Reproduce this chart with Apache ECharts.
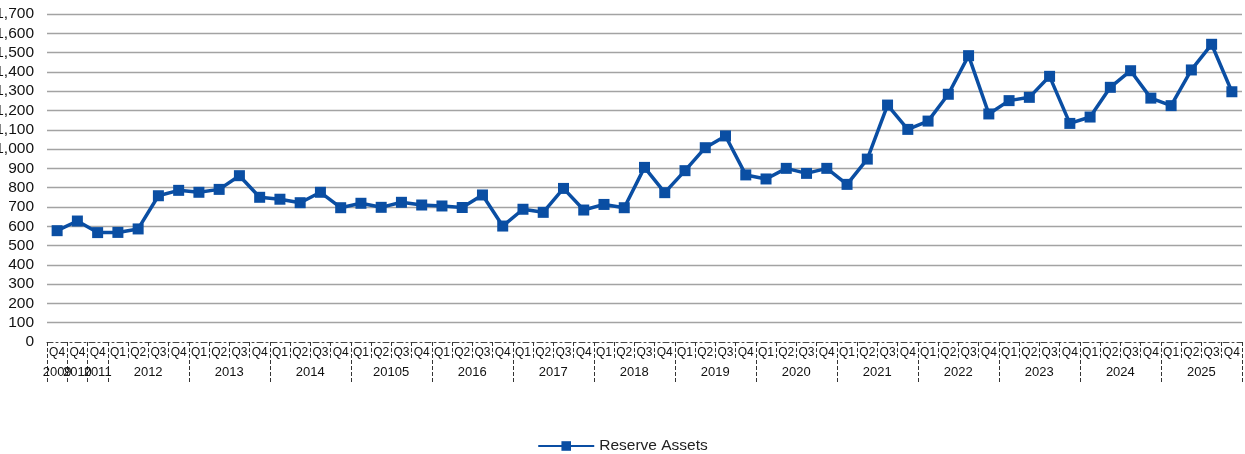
<!DOCTYPE html>
<html>
<head>
<meta charset="utf-8">
<script src="https://cdn.jsdelivr.net/npm/echarts@6/dist/echarts.min.js"></script>
<style>
  html, body { margin: 0; padding: 0; background: #fff; }
  #chart { width: 1245px; height: 454px; }
</style>
</head>
<body>
<div id="chart"></div>
<script>
// Quarter labels along the category axis (first three periods are year-end only)
const quarterLabels = [
  'Q4', 'Q4', 'Q4',
  'Q1', 'Q2', 'Q3', 'Q4',
  'Q1', 'Q2', 'Q3', 'Q4',
  'Q1', 'Q2', 'Q3', 'Q4',
  'Q1', 'Q2', 'Q3', 'Q4',
  'Q1', 'Q2', 'Q3', 'Q4',
  'Q1', 'Q2', 'Q3', 'Q4',
  'Q1', 'Q2', 'Q3', 'Q4',
  'Q1', 'Q2', 'Q3', 'Q4',
  'Q1', 'Q2', 'Q3', 'Q4',
  'Q1', 'Q2', 'Q3', 'Q4',
  'Q1', 'Q2', 'Q3', 'Q4',
  'Q1', 'Q2', 'Q3', 'Q4',
  'Q1', 'Q2', 'Q3', 'Q4',
  'Q1', 'Q2', 'Q3', 'Q4'
];

// Year group labels, one per group of quarters
const yearLabels = [
  '2009', '2010', '2011', '2012', '2013', '2014', '20105', '2016',
  '2017', '2018', '2019', '2020', '2021', '2022', '2023', '2024', '2025'
];

// Reserve assets per period
const reserveAssets = [
  577, 627, 567,
  568, 586, 758, 786,
  776, 791, 862, 750,
  740, 722, 776, 696,
  719, 698, 724, 710,
  705, 697, 762, 601,
  688, 672, 796, 684,
  713, 696, 905, 774,
  888, 1007, 1068, 866,
  845, 900, 874, 900,
  817, 948, 1228, 1102,
  1145, 1284, 1484, 1182,
  1251, 1268, 1377, 1133,
  1166, 1320, 1406, 1264,
  1225, 1410, 1543, 1297
];

// Value axis range
const yMin = 0, yMax = 1700, yStep = 100;

// Work out which year group each quarter belongs to
const periods = [];
const groupStart = [], groupSize = [];
let g = -1;
quarterLabels.forEach((q, i) => {
  if (i === 0 || quarterLabels[i - 1] === 'Q4') {
    g++;
    groupStart[g] = i;
    groupSize[g] = 0;
  }
  groupSize[g]++;
  periods.push({ q: q, year: yearLabels[g], group: g });
});
const categories = periods.map(p => p.year + ' ' + p.q);

const chart = echarts.init(document.getElementById('chart'), null, { renderer: 'canvas' });

const FONT = '"Liberation Sans", Arial, sans-serif';
const BLUE = '#0a4ea3';

// Index of the quarter under which a year label sits (middle of its group)
function isYearLabelSlot(idx) {
  const grp = periods[idx].group;
  return idx === groupStart[grp] + Math.floor((groupSize[grp] - 1) / 2);
}

// Year label axis; alternate groups go on separate axes so neighbouring
// narrow groups keep their labels even where they run into each other
function yearAxis(parity, withTicks) {
  return {
    type: 'category',
    data: categories,
    position: 'bottom',
    offset: 0,
    boundaryGap: true,
    axisLine: { show: false },
    axisTick: {
      show: withTicks,
      interval: (idx) => idx === groupStart[periods[idx].group],
      length: 42,
      lineStyle: { color: '#333', width: 1, type: [4, 2] }
    },
    axisLabel: {
      interval: (idx) => isYearLabelSlot(idx) && periods[idx].group % 2 === parity,
      hideOverlap: false,
      margin: 24,
      fontFamily: FONT,
      fontSize: 13,
      color: '#111',
      formatter: (v, idx) => {
        const p = periods[idx];
        return groupSize[p.group] % 2 === 0 ? '{sh|' + p.year + '}' : p.year;
      },
      rich: {
        sh: { fontFamily: FONT, fontSize: 13, color: '#111', padding: [0, 0, 0, 20] }
      }
    },
    splitLine: { show: false }
  };
}

chart.setOption({
  animation: false,
  backgroundColor: '#ffffff',
  grid: { left: 47, right: 3, top: 14, bottom: 112, containLabel: false, outerBoundsMode: 'none' },
  legend: {
    bottom: 0,
    left: 'center',
    padding: 0,
    itemWidth: 56,
    itemHeight: 12,
    itemGap: 10,
    textStyle: { fontFamily: FONT, fontSize: 15.5, color: '#222' },
    data: ['Reserve Assets']
  },
  xAxis: [
    {
      type: 'category',
      data: categories,
      position: 'bottom',
      boundaryGap: true,
      axisLine: { show: true, lineStyle: { color: '#444', width: 1, type: [6, 3, 2, 3] } },
      axisTick: { show: true, interval: 0, length: 18, lineStyle: { color: '#333', width: 1, type: [4, 2] } },
      axisLabel: {
        interval: 0,
        hideOverlap: false,
        margin: 5,
        fontFamily: FONT,
        fontSize: 12,
        color: '#111',
        formatter: (v, idx) => periods[idx].q
      },
      splitLine: { show: false }
    },
    yearAxis(0, true),
    yearAxis(1, false)
  ],
  yAxis: {
    type: 'value',
    min: yMin,
    max: yMax,
    interval: yStep,
    axisLine: { show: false },
    axisTick: { show: false },
    axisLabel: {
      margin: 13,
      fontFamily: FONT,
      fontSize: 15.5,
      color: '#111',
      formatter: v => v.toLocaleString('en-US')
    },
    splitLine: { show: true, showMinLine: false, lineStyle: { color: '#a3a3a3', width: 1.3 } }
  },
  series: [
    {
      name: 'Reserve Assets',
      type: 'line',
      xAxisIndex: 0,
      data: reserveAssets,
      symbol: 'rect',
      symbolSize: 11,
      showAllSymbol: true,
      lineStyle: { color: BLUE, width: 3.5 },
      itemStyle: { color: BLUE },
      emphasis: { disabled: true }
    }
  ]
});
</script>
</body>
</html>
